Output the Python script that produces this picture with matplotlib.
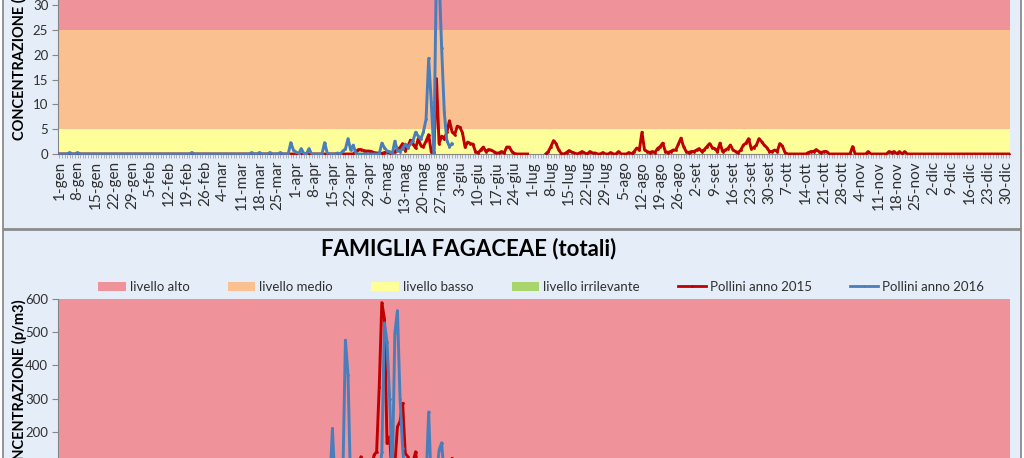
import numpy as np
import matplotlib.pyplot as plt
from matplotlib.patches import Rectangle, Patch
from matplotlib.lines import Line2D

plt.rcParams["font.family"] = ["Lato", "DejaVu Sans"]

W, H = 1024, 458

## DATA ##
n_days = 366
tick_labels = ['1-gen', '8-gen', '15-gen', '22-gen', '29-gen', '5-feb', '12-feb', '19-feb',
               '26-feb', '4-mar', '11-mar', '18-mar', '25-mar', '1-apr', '8-apr', '15-apr',
               '22-apr', '29-apr', '6-mag', '13-mag', '20-mag', '27-mag', '3-giu', '10-giu',
               '17-giu', '24-giu', '1-lug', '8-lug', '15-lug', '22-lug', '29-lug', '5-ago',
               '12-ago', '19-ago', '26-ago', '2-set', '9-set', '16-set', '23-set', '30-set',
               '7-ott', '14-ott', '21-ott', '28-ott', '4-nov', '11-nov', '18-nov', '25-nov',
               '2-dic', '9-dic', '16-dic', '23-dic', '30-dic']

level_names = ["livello alto", "livello medio", "livello basso", "livello irrilevante"]
level_colors = ["#F0929A", "#FAC090", "#FFFF99", "#A9D66C"]
# upper bound of each level (alto, medio, basso, irrilevante)
top_limits = [40, 25, 5, 0]
bottom_limits = [600, 30, 10, 1]

# top chart, 2015 (day index from 1-gen)
top_2015_spring_start = 114
top_2015_spring = [0.5, 0.9, 0.9, 0.7, 0.6, 0.6, 0.5, 0.3, 0.2, 0.2,
                   0.1, 0.3, 0.4, 0.2, 0.1, 0.5, 1.0, 1.3, 2.1, 0.7,
                   1.5, 2.8, 2.0, 1.2, 3.1, 1.7, 1.5, 2.6, 3.9, 0.4,
                   0.4, 15.2, 2.1, 3.6, 3.0, 4.4, 6.7, 4.5, 3.9, 5.6,
                   5.4, 4.3, 1.4, 2.4, 2.1, 2.0, 0.5, 0.2, 0.8, 1.4,
                   0.5, 0.9, 0.8, 0.5, 0.2, 0.2, 0.5, 0.2, 1.4, 1.4,
                   0.5, 0.1, 0, 0, 0, 0, 0]
top_2015_missing = [181, 182, 183, 184, 185, 186]
top_2015_summer_start = 187
top_2015_summer = [0, 0.5, 1.5, 2.7, 2.1, 0.8, 0.1, 0, 0.3, 0.7,
                   0.4, 0.2, 0, 0.2, 0.5, 0.2, 0, 0.5, 0.2, 0.2,
                   0, 0, 0.3, 0, 0, 0.3, 0, 0, 0.5, 0,
                   0, 0, 0.3, 0, 0.5, 1.2, 0.8, 4.4, 0.8, 0.5,
                   0.3, 0.5, 0.3, 1.1, 1.5, 2.2, 0.5, 0.3, 0.5, 0.8,
                   0.8, 2.0, 3.2, 1.5, 0.5, 0.3, 0.5, 0.5, 0.8, 1.1,
                   0.5, 0.9, 1.5, 2.1, 1.3, 1.1, 0.5, 2.2, 0.5, 0.8,
                   1.1, 1.8, 0.8, 0.5, 0.3, 0.8, 1.8, 2.2, 3.1, 1.1,
                   1.3, 1.8, 3.1, 2.5, 1.8, 1.3, 0.5, 0.5, 0.8, 0.5,
                   2.1, 1.6, 0.3, 0, 0, 0, 0, 0, 0, 0,
                   0, 0.3, 0.5, 0.5, 0.9, 0.5, 0.3, 0.5, 0.5, 0,
                   0, 0, 0, 0, 0, 0, 0, 0, 1.5, 0,
                   0, 0, 0, 0, 0.5, 0, 0, 0, 0, 0,
                   0, 0, 0.5, 0.3, 0.5, 0, 0.5, 0, 0.5, 0]

# top chart, 2016 (1-gen .. 31-mag)
top_2016 = [0, 0, 0, 0, 0.3, 0, 0, 0.3, 0, 0,
            0, 0, 0, 0, 0, 0, 0, 0, 0, 0,
            0, 0, 0, 0, 0, 0, 0, 0, 0, 0,
            0, 0, 0, 0, 0, 0, 0, 0, 0, 0,
            0, 0, 0, 0, 0, 0, 0, 0, 0, 0,
            0, 0.3, 0, 0, 0, 0, 0, 0, 0, 0,
            0, 0, 0, 0, 0, 0, 0, 0, 0, 0,
            0, 0, 0, 0, 0.3, 0, 0, 0.3, 0, 0,
            0, 0.3, 0, 0, 0, 0.3, 0, 0, 0, 2.3,
            0.8, 0.4, 0, 1.1, 0.1, 0, 1.1, 0, 0, 0,
            0, 0, 2.3, 0.2, 0, 0, 0, 0.2, 0, 0.6,
            1.0, 3.1, 0.8, 1.8, 0.2, 0, 0, 0, 0, 0,
            0, 0, 0, 0, 2.2, 1.3, 0.6, 0.5, 0, 2.6,
            0.7, 0.5, 1.1, 2.0, 1.3, 2.0, 2.7, 4.4, 3.6, 3.0,
            4.5, 7.0, 19.3, 10.5, 0.2, 38.0, 36.0, 21.3, 8.4, 2.7,
            1.5, 2.1]

# bottom chart (Fagaceae)
bottom_2015_start = 100
bottom_2015 = [0, 5, 10, 10, 20, 20, 30, 20, 30, 40,
               30, 40, 50, 40, 60, 80, 125, 60, 70, 80,
               90, 130, 140, 336, 589, 540, 165, 185, 60, 100,
               215, 232, 286, 135, 125, 100, 110, 140, 60, 70,
               80, 60, 70, 50, 60, 40, 50, 60, 40, 70,
               100, 120, 60, 40, 30, 20, 30, 20, 10, 10, 5]
bottom_2016_start = 100
bottom_2016 = [0, 10, 20, 30, 40, 210, 40, 30, 20, 60,
               476, 371, 30, 20, 10, 20, 30, 40, 30, 20,
               30, 40, 50, 60, 140, 528, 470, 300, 60, 497,
               565, 300, 150, 60, 40, 50, 40, 30, 60, 50,
               40, 50, 260, 40, 30, 60, 145, 167, 60, 40,
               30, 20]
last_day_2016 = 151

## SERIES ##
y15_top = np.zeros(n_days)
y15_top[top_2015_spring_start:top_2015_spring_start + len(top_2015_spring)] = top_2015_spring
y15_top[top_2015_summer_start:top_2015_summer_start + len(top_2015_summer)] = top_2015_summer
y15_top[top_2015_missing] = np.nan

y16_top = np.full(n_days, np.nan)
y16_top[:len(top_2016)] = top_2016

y15_bot = np.zeros(n_days)
y15_bot[bottom_2015_start:bottom_2015_start + len(bottom_2015)] = bottom_2015

y16_bot = np.full(n_days, np.nan)
y16_bot[:last_day_2016 + 1] = 0
y16_bot[bottom_2016_start:bottom_2016_start + len(bottom_2016)] = bottom_2016

red = '#C00000'
blue = '#4A7EBB'
grey = '#868686'
txt = '#303030'


def draw_chart(ax, limits, ystep, s2015, s2016, label_y):
    x = np.arange(n_days)
    lows = limits[1:] + [0]
    for color, lo, hi in zip(level_colors, lows, limits):
        if hi > lo:
            ax.axhspan(lo, hi, color=color, lw=0, zorder=0)

    ax.plot(x, s2015, color=red, lw=2.1, marker='o', ms=2, mew=0, zorder=3)
    ax.plot(x, s2016, color=blue, lw=2.1, marker='o', ms=2, mew=0, zorder=4)

    ax.set_xlim(-0.5, n_days - 0.5)
    ax.set_ylim(0, limits[0])
    ax.set_xticks(np.arange(0, n_days, 7))
    ax.set_xticklabels(tick_labels, rotation=90, fontsize=11, color=txt)
    ax.set_xticks(np.arange(n_days), minor=True)
    ax.set_yticks(np.arange(0, limits[0] + 1, ystep))
    ax.tick_params(axis='x', which='both', length=3, width=0.6, color='#A6A6A6', pad=2)
    ax.tick_params(axis='y', length=4, width=0.8, color=grey, labelsize=9.5,
                   labelcolor=txt, pad=3)

    for side in ['top', 'right']:
        ax.spines[side].set_visible(False)
    for side in ['left', 'bottom']:
        ax.spines[side].set_color(grey)
        ax.spines[side].set_linewidth(0.8)

    ax.set_ylabel('CONCENTRAZIONE (p/m3)', fontsize=10.5, fontweight='bold', color='black')
    ax.yaxis.set_label_coords(-0.033, label_y)


fig = plt.figure(figsize=(W / 100, H / 100), dpi=100)

# chart frames (two Excel charts stacked)
fig.add_artist(Rectangle((3 / W, (H - 228.5) / H), 1018 / W, 0.6,
                         transform=fig.transFigure, facecolor='#E5EDF8',
                         edgecolor='#8C8C8C', lw=1.3, zorder=-2))
fig.add_artist(Rectangle((3 / W, -0.1), 1018 / W, (H - 230) / H + 0.1,
                         transform=fig.transFigure, facecolor='#E5EDF8',
                         edgecolor='#8C8C8C', lw=1.3, zorder=-2))

ax_top = fig.add_axes([58 / W, (H - 154) / H, 952 / W, 198.4 / H])
draw_chart(ax_top, top_limits, 5, y15_top, y16_top, 0.53)

ax_bot = fig.add_axes([58 / W, (H - 498.2) / H, 952 / W, 199.2 / H])
draw_chart(ax_bot, bottom_limits, 100, y15_bot, y16_bot, 0.54)

fig.text(469 / W, 1 - 249 / H, 'FAMIGLIA FAGACEAE (totali)', ha='center', va='center',
         fontsize=16, fontweight='bold')

handles = [Patch(facecolor=c, edgecolor='none') for c in level_colors]
handles += [Line2D([], [], color=red, lw=2, marker='o', ms=2, mew=0),
            Line2D([], [], color=blue, lw=2, marker='o', ms=2, mew=0)]
labels = level_names + ['Pollini anno 2015', 'Pollini anno 2016']
fig.legend(handles, labels, loc='center', bbox_to_anchor=(541 / W, 1 - 287 / H),
           ncol=6, frameon=False, fontsize=9.5, handlelength=2.1, handletextpad=0.3,
           columnspacing=2.9, labelcolor=txt)

fig.savefig('out.png', dpi=100)
